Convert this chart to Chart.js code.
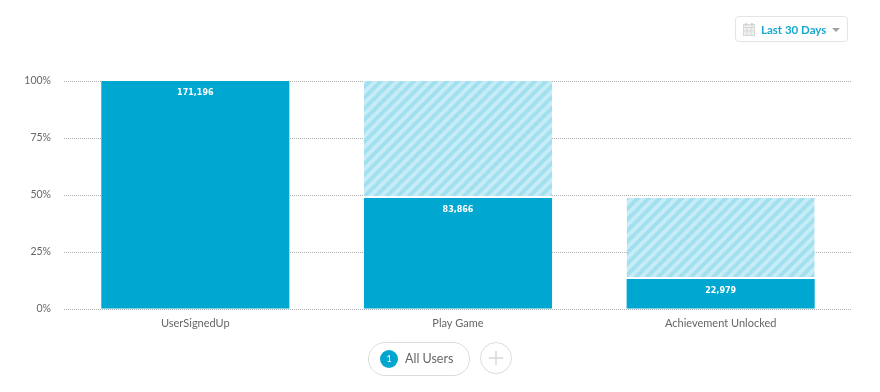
<!DOCTYPE html>
<html lang="en">
<head>
<meta charset="UTF-8" />
<title>Funnel</title>
<script src="https://cdn.jsdelivr.net/npm/chart.js"></script>
<style>
  html, body { margin:0; padding:0; background:#fff; }
  body { width:880px; height:392px; position:relative; overflow:hidden; font-family:Lato, sans-serif; }
  #chart { position:absolute; left:0; top:0; }
  .range { position:absolute; left:735px; top:16px; width:111px; height:24px; border:1px solid #e2e4e6; border-radius:4px; box-shadow:0 0 1px #eee; }
  .range span { position:absolute; left:25px; top:6px; font-size:11.5px; font-weight:700; color:#1ba8cf; white-space:nowrap; }
  .range svg { position:absolute; left:7px; top:6px; }
  .caret { position:absolute; left:96px; top:11px; width:0; height:0; border:4px solid transparent; border-top:4px solid #a0a0a0; border-bottom:0; }
  .pill { position:absolute; left:368px; top:342px; width:100px; height:32px; border:1px solid #dcdcdc; border-radius:17px; }
  .pill i { position:absolute; left:11px; top:7px; width:18px; height:18px; line-height:18px; border-radius:50%; background:#00a6cf; color:#fff; font-style:normal; font-size:9px; text-align:center; }
  .pill span { position:absolute; left:36px; top:8px; font-size:12.5px; color:#666; white-space:nowrap; }
  .plus { position:absolute; left:480px; top:342px; width:30px; height:30px; border:1px solid #dcdcdc; border-radius:50%; }
  .plus svg { position:absolute; left:8px; top:8px; }
</style>
</head>
<body>
<canvas id="chart" width="880" height="392"></canvas>
<div class="range">
  <svg width="12" height="13" viewBox="0 0 12 13"><rect x="0.5" y="1.5" width="11" height="11" fill="#f0f0f0" stroke="#d8d8d8"/><path d="M0 4.5H12M4 4.5V12M8 4.5V12M0 8H12" stroke="#d8d8d8" fill="none"/><path d="M3 0V3M9 0V3" stroke="#ccc" stroke-width="1.5"/></svg>
  <span>Last 30 Days</span><div class="caret"></div>
</div>
<div class="pill"><i>1</i><span>All Users</span></div>
<div class="plus"><svg width="14" height="14" viewBox="0 0 14 14"><path d="M7 0V14M0 7H14" stroke="#d8d8d8" stroke-width="1.5"/></svg></div>

<script>
const categories = ['UserSignedUp', 'Play Game', 'Achievement Unlocked'];
const userCounts = [171196, 83866, 22979];
const convertedPct = [100, 48.7, 13.2];
const droppedPct = [0, 51.3, 35.5];
const yTicks = [0, 25, 50, 75, 100];

const solidBlue = '#00a7d0';

// diagonal stripes for the drop-off part of each bar
function hatch() {
  const size = 11;
  const c = document.createElement('canvas');
  c.width = size; c.height = size;
  const g = c.getContext('2d');
  g.fillStyle = '#c6ecf6';
  g.fillRect(0, 0, size, size);
  g.strokeStyle = '#a2e0f0';
  g.lineWidth = 4;
  g.beginPath();
  g.moveTo(-1, 1); g.lineTo(1, -1);
  g.moveTo(-1, size + 1); g.lineTo(size + 1, -1);
  g.moveTo(size - 1, size + 1); g.lineTo(size + 1, size - 1);
  g.stroke();
  return g.createPattern(c, 'repeat');
}

const countLabels = {
  id: 'countLabels',
  afterDatasetsDraw(chart) {
    const ctx = chart.ctx;
    const bars = chart.getDatasetMeta(0).data;
    ctx.save();
    ctx.font = 'bold 8px "DejaVu Sans"';
    ctx.fillStyle = '#fff';
    ctx.textAlign = 'center';
    ctx.textBaseline = 'middle';
    bars.forEach((bar, i) => {
      ctx.fillText(userCounts[i].toLocaleString('en-US'), bar.x, bar.y + 12);
    });
    ctx.restore();
  }
};

new Chart(document.getElementById('chart'), {
  type: 'bar',
  data: {
    labels: categories,
    datasets: [
      { data: convertedPct, backgroundColor: solidBlue, barPercentage: 0.716, categoryPercentage: 1 },
      { data: droppedPct, backgroundColor: hatch(), borderColor: '#fff', borderWidth: { bottom: 2 }, borderSkipped: false, barPercentage: 0.716, categoryPercentage: 1 }
    ]
  },
  options: {
    responsive: false,
    animation: false,
    layout: { padding: { top: 81, right: 28, bottom: 0, left: 0 } },
    plugins: { legend: { display: false }, tooltip: { enabled: false } },
    scales: {
      x: {
        stacked: true,
        afterFit: s => { s.height = 83; },
        grid: { display: false },
        border: { display: false },
        ticks: { color: '#666', font: { family: 'Lato', size: 11 }, padding: 0 }
      },
      y: {
        stacked: true,
        min: 0,
        max: 100,
        afterFit: s => { s.width = 64; },
        afterBuildTicks: s => { s.ticks = yTicks.map(v => ({ value: v })); },
        grid: { color: '#b0b0b0', tickLength: 0, drawTicks: false },
        border: { display: false, dash: [1, 1] },
        ticks: { color: '#666', font: { family: 'Lato', size: 10.5 }, padding: 13, callback: v => v + '%' }
      }
    }
  },
  plugins: [countLabels]
});
</script>
</body>
</html>
